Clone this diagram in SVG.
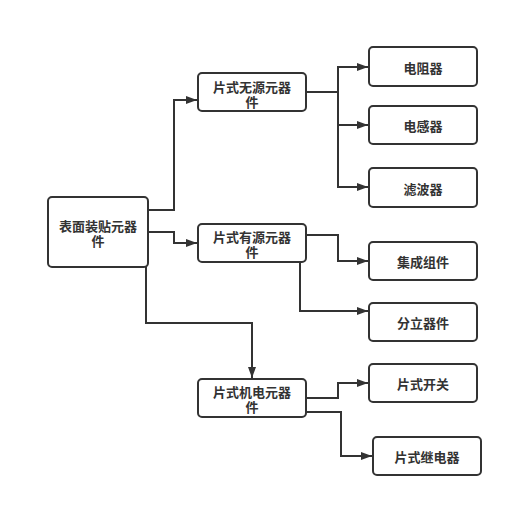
<svg xmlns="http://www.w3.org/2000/svg" width="513" height="507" viewBox="0 0 513 507">
<style>
.box{fill:#fff;stroke:#333;stroke-width:2}
.t{font-family:"Noto Sans CJK SC","Liberation Sans",sans-serif;font-size:13px;font-weight:bold;fill:#333;text-anchor:middle;dominant-baseline:central}
.c{fill:none;stroke:#333;stroke-width:2}
</style>
<defs>
<marker id="ar" markerUnits="userSpaceOnUse" markerWidth="12" markerHeight="10" refX="11" refY="5" orient="auto">
<path d="M0,1 L11,5 L0,9 z" fill="#333"/>
</marker>
</defs>
<rect width="513" height="507" fill="#fff"/>
<g id="connectors">
<path class="c" marker-end="url(#ar)" d="M148,210 H174 V100 H197"/>
<path class="c" marker-end="url(#ar)" d="M148,232 H174 V243 H197"/>
<path class="c" marker-end="url(#ar)" d="M146,267 V323 H252 V378"/>
<path class="c" marker-end="url(#ar)" d="M306,92 H338 V67 H368"/>
<path class="c" marker-end="url(#ar)" d="M338,92 V125 H368"/>
<path class="c" marker-end="url(#ar)" d="M338,125 V187 H368"/>
<path class="c" marker-end="url(#ar)" d="M306,235 H338 V261 H368"/>
<path class="c" marker-end="url(#ar)" d="M300,262 V311 H368"/>
<path class="c" marker-end="url(#ar)" d="M306,398 H338 V383 H368"/>
<path class="c" marker-end="url(#ar)" d="M306,412 H341 V456 H372"/>
</g>
<g id="root"><rect class="box" x="48" y="197" width="100" height="70" rx="4"/><text class="t" x="98" y="225">表面装贴元器</text><text class="t" x="98" y="240.5">件</text></g>
<g id="passive"><rect class="box" x="198" y="73" width="108" height="38" rx="4"/><text class="t" x="252" y="86.5">片式无源元器</text><text class="t" x="252" y="101.5">件</text></g>
<g id="active"><rect class="box" x="198" y="224" width="108" height="38" rx="4"/><text class="t" x="252" y="236">片式有源元器</text><text class="t" x="252" y="251">件</text></g>
<g id="electro"><rect class="box" x="198" y="379" width="108" height="38" rx="4"/><text class="t" x="252" y="391.5">片式机电元器</text><text class="t" x="252" y="406.5">件</text></g>
<g id="resistor"><rect class="box" x="369" y="47" width="108" height="39" rx="4"/><text class="t" x="423" y="67">电阻器</text></g>
<g id="inductor"><rect class="box" x="369" y="106" width="108" height="38" rx="4"/><text class="t" x="423" y="125">电感器</text></g>
<g id="filter"><rect class="box" x="369" y="168" width="108" height="39" rx="4"/><text class="t" x="423" y="188">滤波器</text></g>
<g id="ic"><rect class="box" x="369" y="242" width="108" height="38" rx="4"/><text class="t" x="423" y="261">集成组件</text></g>
<g id="discrete"><rect class="box" x="369" y="303" width="108" height="38" rx="4"/><text class="t" x="423" y="322">分立器件</text></g>
<g id="switch"><rect class="box" x="369" y="364" width="108" height="38" rx="4"/><text class="t" x="423" y="383">片式开关</text></g>
<g id="relay"><rect class="box" x="373" y="437" width="108" height="38" rx="4"/><text class="t" x="427" y="456">片式继电器</text></g>
</svg>
